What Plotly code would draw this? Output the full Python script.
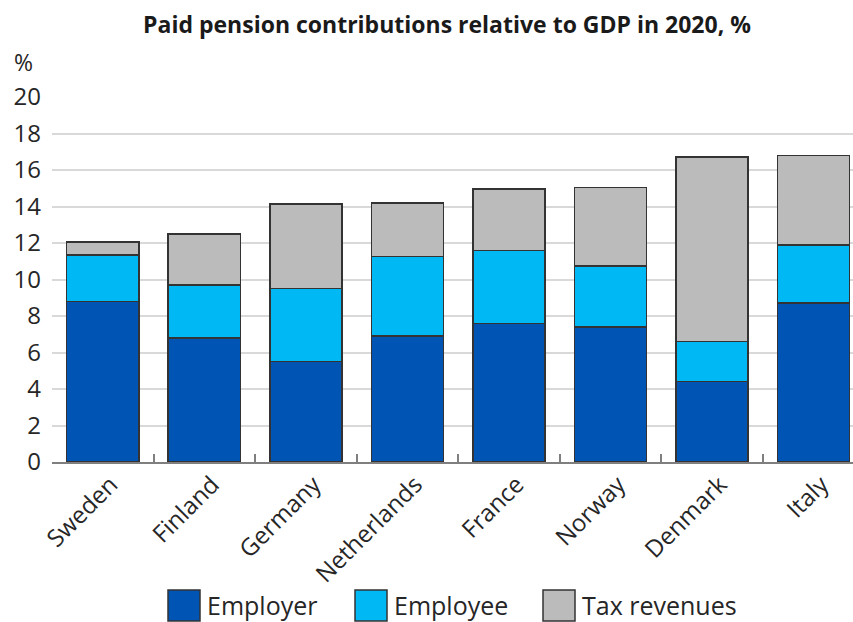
import plotly.graph_objects as go

# Paid pension contributions relative to GDP in 2020, % of GDP
countries = ["Sweden", "Finland", "Germany", "Netherlands", "France", "Norway", "Denmark", "Italy"]
employer = [8.8, 6.8, 5.5, 6.9, 7.6, 7.4, 4.4, 8.7]
employee = [2.55, 2.9, 4.0, 4.35, 4.0, 3.35, 2.2, 3.2]
tax_revenues = [0.7, 2.8, 4.65, 2.95, 3.35, 4.3, 10.1, 4.9]

series_names = ["Employer", "Employee", "Tax revenues"]
series_colors = ["#0054B4", "#00B8F3", "#BBBBBB"]
y_ticks = [0, 2, 4, 6, 8, 10, 12, 14, 16, 18, 20]

FONT = "Open Sans"
TEXT = "#262626"
W, H = 853, 622
ML, MR, MT, MB = 52, 0, 97, 160
PW, PH = W - ML - MR, H - MT - MB

fig = go.Figure()
for name, vals, col in zip(series_names, [employer, employee, tax_revenues], series_colors):
    fig.add_trace(go.Bar(
        x=countries, y=vals, name=name,
        marker=dict(color=col, line=dict(color="#333333", width=1.5)),
        showlegend=False,
    ))


def px_x(px):
    return (px - ML) / PW


def px_y(py):
    return (H - MB - py) / PH


# Legend drawn as large swatches with labels underneath the axis
legend_items = [(168, "Employer"), (355, "Employee"), (543, "Tax revenues")]
shapes = []
annotations = []
for (x0, label), col in zip(legend_items, series_colors):
    shapes.append(dict(
        type="rect", xref="paper", yref="paper",
        x0=px_x(x0), x1=px_x(x0 + 32), y0=px_y(621), y1=px_y(590),
        fillcolor=col, line=dict(color="#333333", width=1.5),
    ))
    annotations.append(dict(
        xref="paper", yref="paper", x=px_x(x0 + 37), y=px_y(605),
        text=label, showarrow=False, xanchor="left", yanchor="middle",
        font=dict(family=FONT, size=25, color=TEXT),
    ))

annotations.append(dict(
    xref="paper", yref="paper", x=px_x(23), y=px_y(62),
    text="%", showarrow=False, xanchor="center", yanchor="middle",
    font=dict(family=FONT, size=23, color=TEXT),
))

fig.update_layout(
    barmode="stack",
    bargap=0.29,
    width=W, height=H,
    margin=dict(l=ML, r=MR, t=MT, b=MB, autoexpand=False),
    paper_bgcolor="white", plot_bgcolor="white",
    title=dict(
        text="<b>Paid pension contributions relative to GDP in 2020, %</b>",
        x=447 / W, xanchor="center",
        y=1 - 25 / H, yanchor="middle",
        font=dict(family=FONT, size=23, color="#1A1A1A"),
    ),
    font=dict(family=FONT, color=TEXT),
    shapes=shapes,
    annotations=annotations,
    xaxis=dict(
        range=[-0.5, 7.39],
        tickangle=-45,
        tickfont=dict(family=FONT, size=24, color=TEXT),
        ticklabelshift=8, ticklabelstandoff=-3,
        showline=True, linecolor="#7F7F7F", linewidth=2,
        ticks="inside", ticklen=8, tickcolor="#7F7F7F", tickwidth=2,
        tickson="boundaries",
        showgrid=False,
    ),
    yaxis=dict(
        range=[0, 20],
        tickvals=y_ticks,
        tickfont=dict(family=FONT, size=24, color=TEXT),
        showgrid=True, gridcolor="#D9D9D9", gridwidth=2,
        zeroline=False, showline=False,
        ticks="", ticklabelstandoff=10,
    ),
)

fig.write_html("out.html")
